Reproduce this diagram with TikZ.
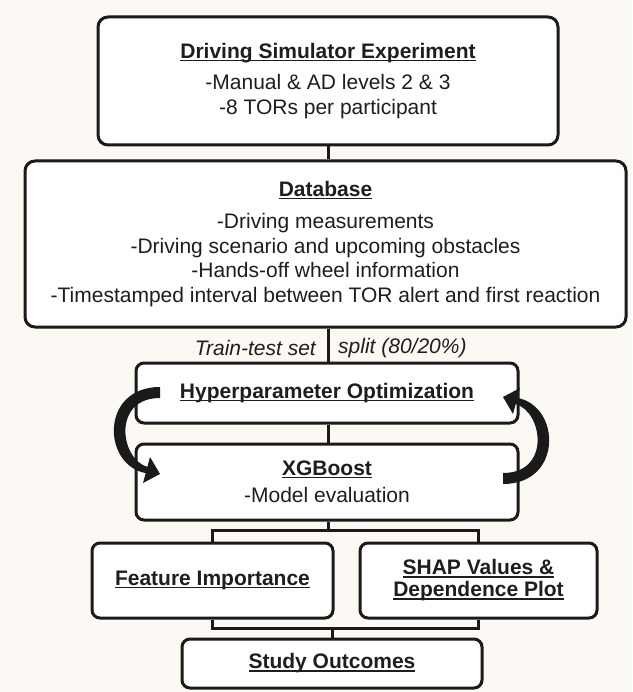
\documentclass[tikz,border=0pt]{standalone}
\usepackage{fontspec}
\setmainfont{Liberation Sans}
\usetikzlibrary{calc}

\definecolor{paper}{HTML}{FCF9F4}
\definecolor{ink}{HTML}{1A1A1A}
\definecolor{txt}{HTML}{1E1E1E}

% bold heading with a thin underline just below the baseline
\newcommand{\headul}[1]{\setbox0=\hbox{\bfseries #1}\rlap{\rule[-2.6pt]{\wd0}{1.4pt}}\box0}

\tikzset{
  stagebox/.style={draw=ink, line width=3pt, rounded corners=10pt, fill=white,
    align=center, inner sep=0pt, text=txt,
    font=\fontsize{21}{24.5}\selectfont},
  smallbox/.style={stagebox, rounded corners=8pt},
  conn/.style={draw=ink, line width=3pt},
  splitlabel/.style={inner sep=0pt, text=txt, font=\fontsize{21}{24.5}\selectfont\itshape},
  loopfill/.style={fill=ink}
}

\begin{document}
\begin{tikzpicture}[x=1pt, y=-1pt]
  \fill[paper] (0,0) rectangle (632,692);
  \useasboundingbox (0,0) rectangle (632,692);

  \coordinate (spine) at (328,0);

  % stages
  \node[stagebox, minimum width=460pt, minimum height=128pt] (exp) at (328,81)
    {\headul{Driving Simulator Experiment}\\[6.5pt]
     -Manual \& AD levels 2 \& 3\\
     -8 TORs per participant};

  \node[stagebox, minimum width=601pt, minimum height=166pt] (db) at (325.5,244)
    {\headul{Database}\\[7.5pt]
     -Driving measurements\\
     -Driving scenario and upcoming obstacles\\
     -Hands-off wheel information\\
     -Timestamped interval between TOR alert and first reaction};

  \node[smallbox, minimum width=382pt, minimum height=60pt] (hyp) at (327,393)
    {\headul{Hyperparameter Optimization}};

  \node[smallbox, minimum width=382pt, minimum height=76pt] (xgb) at (327,482)
    {\headul{XGBoost}\\[2.5pt]
     -Model evaluation};

  \node[smallbox, minimum width=241pt, minimum height=75pt] (fi) at (212.5,580.5)
    {\headul{Feature Importance}};

  \node[smallbox, minimum width=237pt, minimum height=75pt] (shap) at (478.5,580.5)
    {\headul{SHAP Values \&}\\[-2.5pt]
     \headul{Dependence Plot}};

  \node[smallbox, minimum width=300pt, minimum height=49pt] (out) at (332,663.5)
    {\headul{Study Outcomes}};

  % connectors
  \draw[conn] (exp.south -| spine) -- (db.north -| spine);
  \draw[conn] (db.south -| spine) -- (hyp.north -| spine);
  \draw[conn] (hyp.south -| spine) -- (xgb.north -| spine);
  \coordinate (j1) at (328,530);
  \draw[conn] (xgb.south -| spine) -- (j1);
  \draw[conn] (fi.north) |- (j1) -| (shap.north);
  \coordinate (j2) at (332,628);
  \draw[conn] (fi.south) |- (j2) -| (shap.south);
  \draw[conn] (j2) -- (out.north);

  % split labels beside the spine
  \node[splitlabel, anchor=east] (trainlbl) at (316,348) {Train-test set};
  \node[splitlabel, anchor=west] (splitlbl) at (338,348) {split (80/20\%)};

  % optimisation loop: two curved arrows
  \fill[loopfill] (160,387) .. controls (100,387) and (102,465) .. (145.7,473.1)
    -- (143,483) -- (160,474) -- (150,457) -- (147.3,466.9)
    .. controls (120,459) and (112,398) .. (160,398) -- cycle;
  \begin{scope}[rotate around={180:(331.5,435.5)}]
    \fill[loopfill] (160,387) .. controls (100,387) and (102,465) .. (145.7,473.1)
      -- (143,483) -- (160,474) -- (150,457) -- (147.3,466.9)
      .. controls (120,459) and (112,398) .. (160,398) -- cycle;
  \end{scope}
\end{tikzpicture}
\end{document}
